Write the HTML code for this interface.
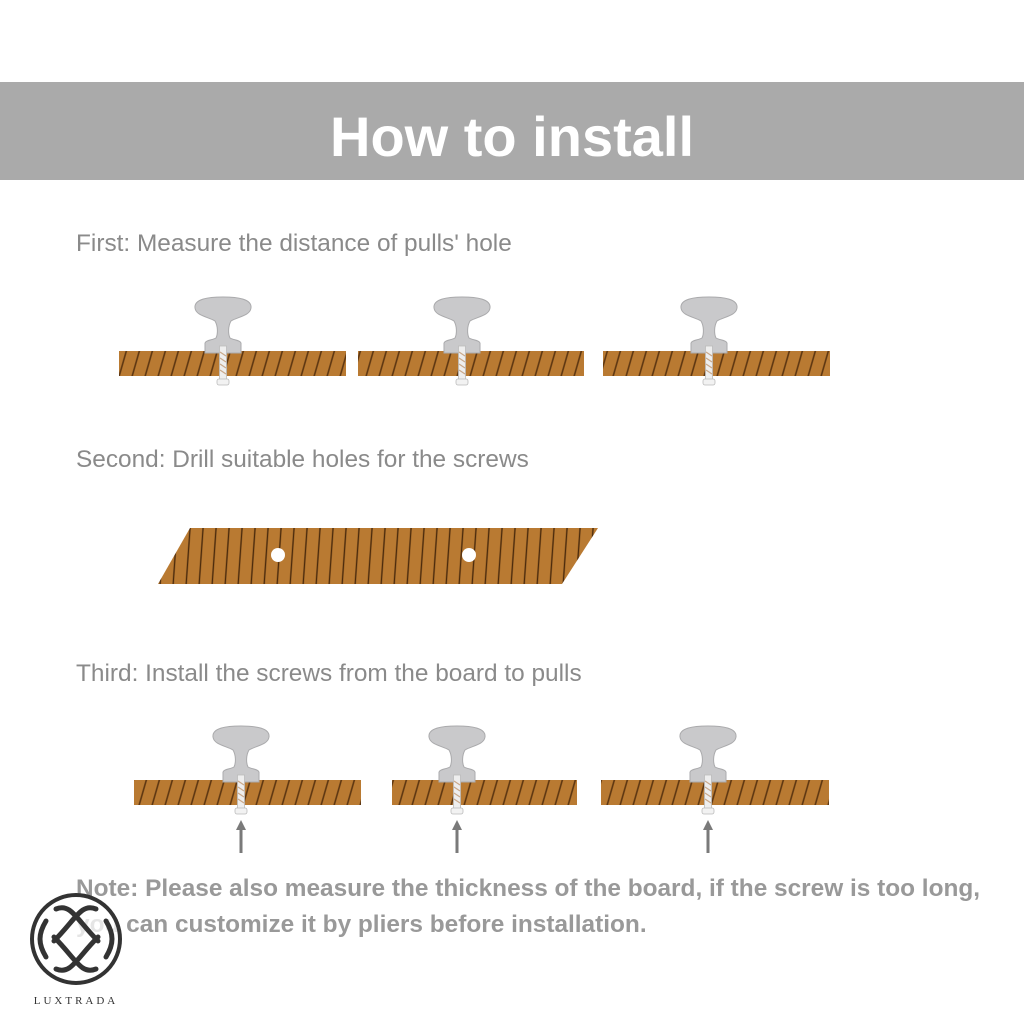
<!DOCTYPE html>
<html><head><meta charset="utf-8"><style>
html,body{margin:0;padding:0;background:#fff;}
svg{display:block;}
</style></head><body>
<svg width="1024" height="1024" viewBox="0 0 1024 1024" xmlns="http://www.w3.org/2000/svg" font-family="Liberation Sans, Arial, sans-serif">
<defs>
<pattern id="diag" width="13" height="100" patternUnits="userSpaceOnUse" patternTransform="skewX(-16)">
<rect width="13" height="100" fill="#b97a32"/>
<line x1="6" y1="0" x2="6" y2="100" stroke="#5a3410" stroke-width="1.6"/>
</pattern>
<pattern id="vert" width="13" height="100" patternUnits="userSpaceOnUse" patternTransform="skewX(-4)">
<rect width="13" height="100" fill="#b97a32"/>
<line x1="6" y1="0" x2="6" y2="100" stroke="#4a2a0c" stroke-width="1.4"/>
</pattern>
<g id="knob">
<path d="M-28,-44 C-29,-53 -15,-55 0,-55 C15,-55 29,-53 28,-44 C27,-36 14,-35 8,-31 C5,-26 5,-18 7,-14 C10,-12 17,-12 18,-9 L18,1 L-18,1 L-18,-9 C-17,-12 -10,-12 -7,-14 C-5,-18 -5,-26 -8,-31 C-14,-35 -27,-36 -28,-44 Z" fill="#c9c9cb" stroke="#aaaaac" stroke-width="1"/>
<rect x="-3.5" y="-6" width="7" height="34" fill="#eee" stroke="#bbb" stroke-width="0.8"/>
<path d="M-3,0 L3,4 M-3,6 L3,10 M-3,12 L3,16 M-3,18 L3,22" stroke="#c9a88a" stroke-width="1.2"/>
<rect x="-6" y="27" width="12" height="6" rx="2" fill="#f2f2f2" stroke="#bbb" stroke-width="0.8"/>
</g>
</defs>
<rect x="0" y="82" width="1024" height="98" fill="#aaaaaa"/>
<text x="512" y="156" text-anchor="middle" font-size="56" font-weight="bold" fill="#fff">How to install</text>

<text x="76" y="251" font-size="24.4" fill="#8a8a8a">First: Measure the distance of pulls' hole</text>
<rect x="119" y="351" width="227" height="25" fill="url(#diag)"/>
<rect x="358" y="351" width="226" height="25" fill="url(#diag)"/>
<rect x="603" y="351" width="227" height="25" fill="url(#diag)"/>
<use href="#knob" x="223" y="352"/>
<use href="#knob" x="462" y="352"/>
<use href="#knob" x="709" y="352"/>

<text x="76" y="467" font-size="24.4" fill="#8a8a8a">Second: Drill suitable holes for the screws</text>
<path d="M190,528 L598,528 L562,584 L158,584 Z" fill="url(#vert)"/>
<circle cx="278" cy="555" r="7" fill="#fff"/>
<circle cx="469" cy="555" r="7" fill="#fff"/>

<text x="76" y="681" font-size="24.4" fill="#8a8a8a">Third: Install the screws from the board to pulls</text>
<rect x="134" y="780" width="227" height="25" fill="url(#diag)"/>
<rect x="392" y="780" width="185" height="25" fill="url(#diag)"/>
<rect x="601" y="780" width="228" height="25" fill="url(#diag)"/>
<use href="#knob" x="241" y="781"/>
<use href="#knob" x="457" y="781"/>
<use href="#knob" x="708" y="781"/>
<g fill="#7a7a7a">
<path d="M239.5,853 L239.5,830 L236,830 L241,820 L246,830 L242.5,830 L242.5,853 Z"/>
<path d="M455.5,853 L455.5,830 L452,830 L457,820 L462,830 L458.5,830 L458.5,853 Z"/>
<path d="M706.5,853 L706.5,830 L703,830 L708,820 L713,830 L709.5,830 L709.5,853 Z"/>
</g>

<text x="76" y="896" font-size="24.4" font-weight="bold" fill="#999">Note: Please also measure the thickness of the board, if the screw is too long,</text>
<text x="76" y="932" font-size="24.4" font-weight="bold" fill="#999">you can customize it by pliers before installation.</text>

<g transform="translate(76,939)">
<circle r="44" fill="#fff" fill-opacity="0.75" stroke="#333" stroke-width="4"/>
<g fill="none" stroke="#333" stroke-width="5" stroke-linecap="round">
<path d="M-20,-30 C-5,-36 0,-20 22,2 M20,-30 C5,-36 0,-20 -22,2"/>
<path d="M-20,30 C-5,36 0,20 22,-2 M20,30 C5,36 0,20 -22,-2"/>
<path d="M-30,-18 C-38,-5 -38,5 -30,18 M30,-18 C38,-5 38,5 30,18"/>
</g>
</g>
<text x="76" y="1004" text-anchor="middle" font-size="11" letter-spacing="3" fill="#333" font-family="Liberation Serif, serif">LUXTRADA</text>
</svg>
</body></html>
